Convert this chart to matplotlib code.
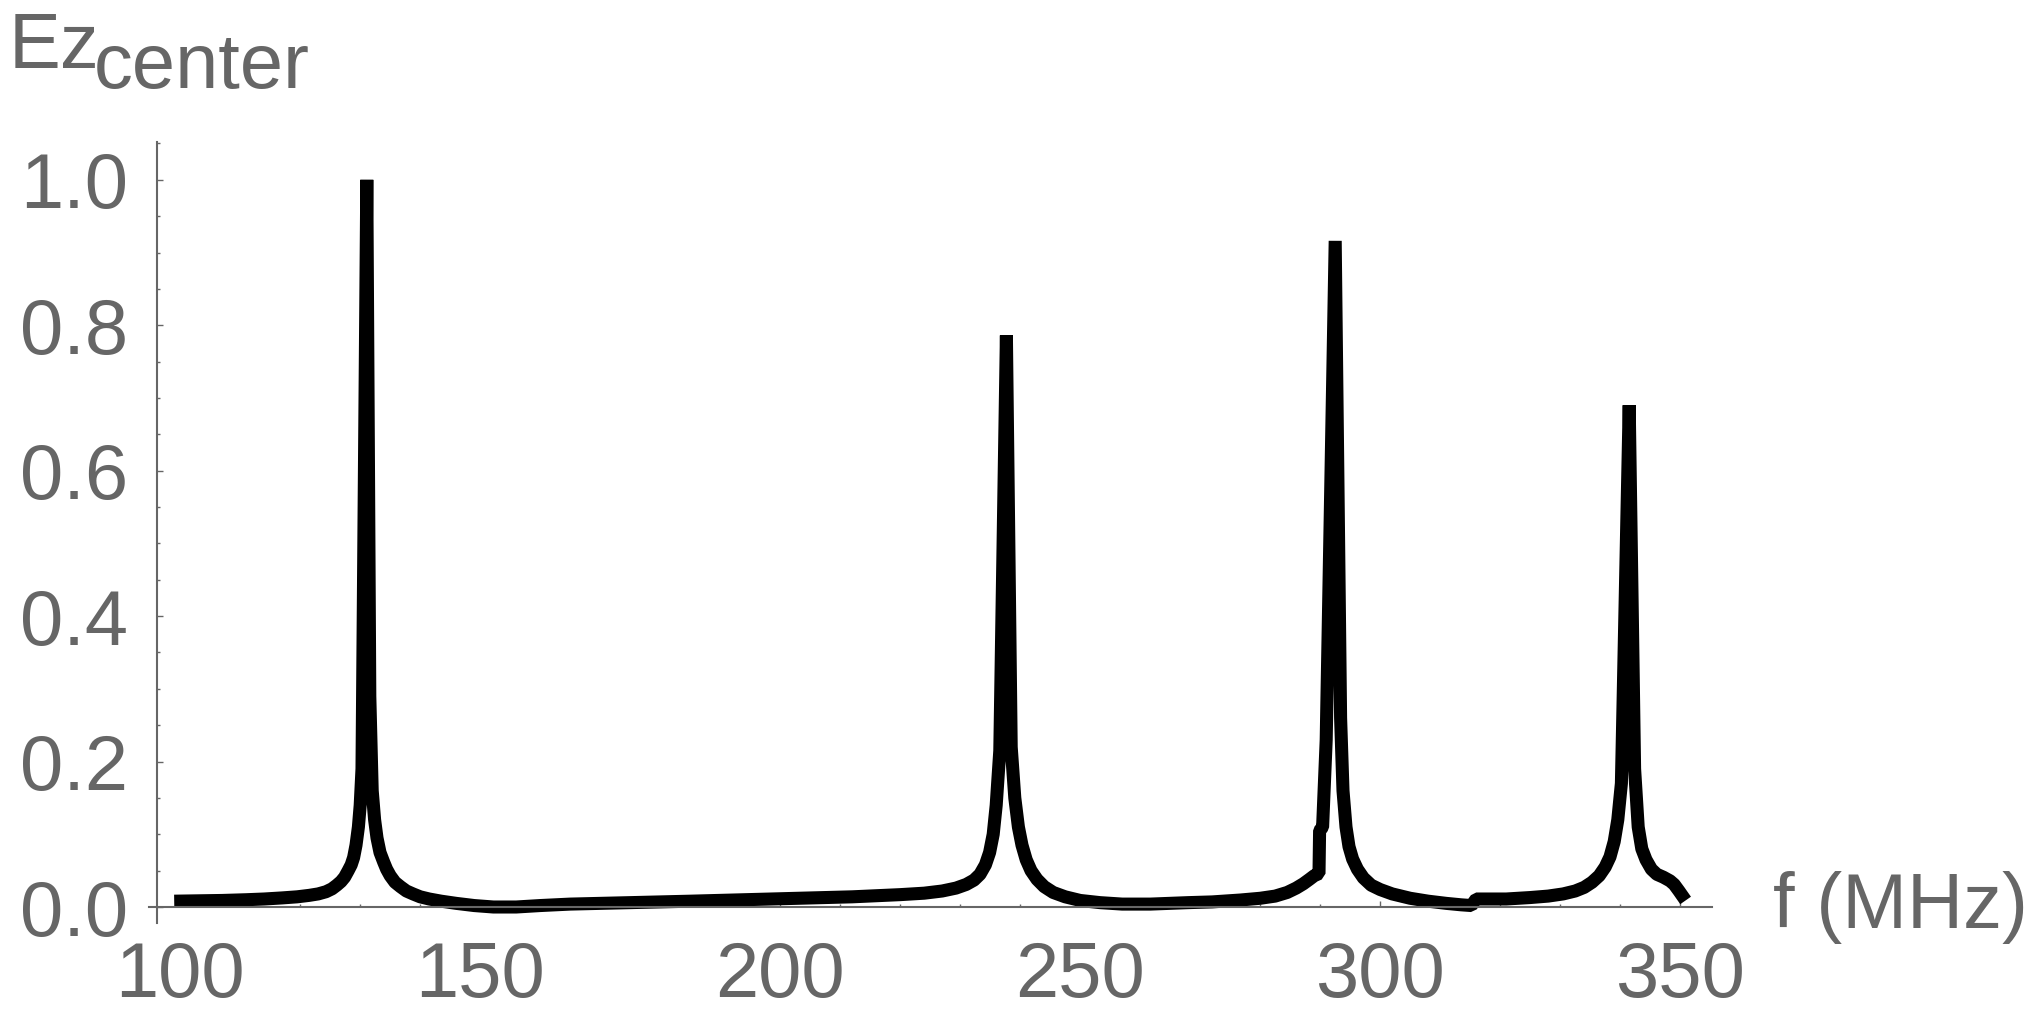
import matplotlib.pyplot as plt
from matplotlib.ticker import MultipleLocator

# Ez at the cavity center vs frequency
freq = [99.0, 103.0, 107.0, 111.0, 114.0, 117.0, 119.5, 121.5, 123.0, 124.3,
        125.3, 126.1, 126.8, 127.4, 128.0, 128.5, 128.9, 129.3, 129.7, 130.0,
        130.3, 131.1, 131.6, 132.0, 132.4, 132.8, 133.3, 133.9, 134.4, 135.0,
        135.8, 136.7, 137.7, 138.8, 140.0, 141.5, 143.5, 146.0, 149.0, 152.2,
        156.0, 160.0, 165.0, 170.0, 185.0, 203.3, 212.0, 220.0, 224.0, 227.0,
        229.3, 231.0, 232.3, 233.3, 234.2, 234.9, 235.5, 236.0, 236.6, 237.7,
        238.5, 239.1, 239.7, 240.3, 241.0, 241.8, 242.8, 244.0, 245.5, 247.5,
        250.0, 253.3, 257.0, 261.7, 268.0, 272.0, 276.7, 280.0, 282.5, 284.5,
        286.0, 287.2, 288.2, 289.0, 289.8, 289.9, 290.4, 291.0, 292.5, 293.4,
        293.8, 294.3, 294.8, 295.4, 296.2, 297.2, 298.5, 300.0, 302.0, 305.0,
        308.0, 311.0, 313.5, 315.2, 316.0, 317.0, 321.0, 325.0, 328.0, 330.5,
        332.5, 334.0, 335.3, 336.5, 337.5, 338.3, 339.0, 339.6, 340.2, 341.5,
        342.4, 343.0, 343.6, 344.3, 345.2, 346.1, 347.2, 348.3, 349.0, 349.8,
        350.9]
ez = [0.008, 0.0085, 0.009, 0.010, 0.011, 0.0125, 0.014, 0.016, 0.018, 0.021,
      0.025, 0.030, 0.035, 0.041, 0.050, 0.058, 0.068, 0.085, 0.110, 0.140,
      0.190, 1.000, 0.290, 0.160, 0.120, 0.095, 0.075, 0.062, 0.052, 0.043,
      0.034, 0.028, 0.022, 0.018, 0.014, 0.011, 0.008, 0.005, 0.002, 0.000,
      0.000, 0.002, 0.004, 0.005, 0.008, 0.012, 0.014, 0.017, 0.019, 0.022,
      0.026, 0.031, 0.037, 0.045, 0.058, 0.075, 0.100, 0.140, 0.215, 0.786,
      0.220, 0.150, 0.110, 0.085, 0.065, 0.050, 0.038, 0.028, 0.020, 0.014,
      0.009, 0.006, 0.004, 0.004, 0.006, 0.007, 0.0096, 0.012, 0.015, 0.020,
      0.026, 0.032, 0.038, 0.043, 0.046, 0.105, 0.110, 0.230, 0.916, 0.260,
      0.160, 0.110, 0.083, 0.066, 0.052, 0.040, 0.030, 0.024, 0.018, 0.012,
      0.008, 0.005, 0.003, 0.002, 0.011, 0.011, 0.011, 0.013, 0.015, 0.018,
      0.022, 0.027, 0.034, 0.043, 0.055, 0.069, 0.090, 0.120, 0.170, 0.690,
      0.190, 0.110, 0.080, 0.065, 0.052, 0.045, 0.041, 0.036, 0.031, 0.022,
      0.009]

xticks = [100, 150, 200, 250, 300, 350]
yticks = [0.0, 0.2, 0.4, 0.6, 0.8, 1.0]

W, H = 2031, 1016
gray = '#666666'
plt.rcParams['font.family'] = ['Liberation Sans', 'DejaVu Sans']

fig = plt.figure(figsize=(W / 100, H / 100), dpi=100)
# axes box in pixels: x 149..1712, y 142..923 (from top)
ax = fig.add_axes([149 / W, (H - 923) / H, (1712 - 149) / W, (923 - 142) / H])
ax.set_xlim(94.8, 355.3)
ax.set_ylim(-0.022, 1.052)

ax.plot(freq, ez, color='black', lw=9.4, solid_joinstyle='bevel',
        solid_capstyle='butt', clip_on=False)

for s in ['top', 'right']:
    ax.spines[s].set_visible(False)
ax.spines['left'].set_position(('data', 96.2))
ax.spines['bottom'].set_position(('data', 0))
for s in ['left', 'bottom']:
    ax.spines[s].set_color(gray)
    ax.spines[s].set_linewidth(1.5)
ax.set_facecolor('none')

ax.set_xticks(xticks)
ax.set_xticklabels([str(t) for t in xticks])
ax.set_yticks(yticks)
ax.set_yticklabels(['%.1f' % t for t in yticks])
ax.xaxis.set_minor_locator(MultipleLocator(10))
ax.yaxis.set_minor_locator(MultipleLocator(0.05))
ax.tick_params(which='both', direction='in', color=gray, labelcolor=gray,
               labelsize=56, width=1)
ax.tick_params(which='major', length=4)
ax.tick_params(which='minor', length=2.5)
ax.tick_params(axis='x', pad=24)
ax.tick_params(axis='y', pad=21)

fig.text(1773 / W, (H - 928) / H, 'f (MHz)', color=gray, fontsize=56,
         ha='left', va='baseline')
fig.text(9 / W, (H - 68) / H, 'Ez', color=gray, fontsize=56,
         ha='left', va='baseline')
fig.text(94 / W, (H - 88) / H, 'center', color=gray, fontsize=56,
         ha='left', va='baseline')

fig.savefig('out.png', dpi=100, facecolor='white')
